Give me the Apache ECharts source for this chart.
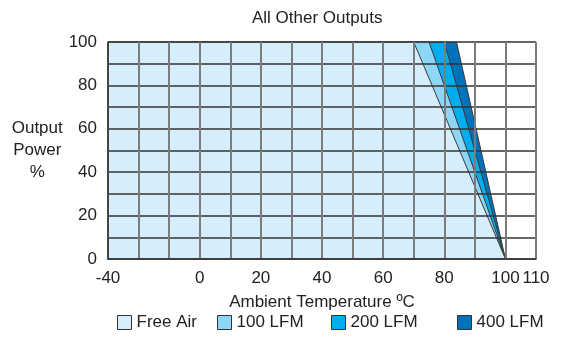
<!DOCTYPE html>
<html>
<head>
<meta charset="utf-8">
<script src="https://cdn.jsdelivr.net/npm/echarts@6/dist/echarts.min.js"></script>
<style>html,body{margin:0;padding:0;background:#fff}#c{width:561px;height:340px}</style>
</head>
<body>
<div id="c"></div>
<script>
// ---- data ----
const titleText = 'All Other Outputs';
const xAxisName = 'Ambient Temperature ºC';
const yAxisName = 'Output\nPower\n%';
const xTickLabels = [-40, 0, 20, 40, 60, 80, 100, 110];
const yTicks = [0, 20, 40, 60, 80, 100];
const seriesNames = ['Free Air', '100 LFM', '200 LFM', '400 LFM'];
const freeAir = [[-40, 100], [70, 100], [100, 0]];
const lfm100  = [[-40, 100], [75, 100], [100, 0]];
const lfm200  = [[-40, 100], [80, 100], [100, 0]];
const lfm400  = [[-40, 100], [84, 100], [100, 0]];
const seriesColors = ['#d6eefb', '#8ed6f5', '#00aeef', '#0071bb'];

// Broken x scale: -40..0 spans 3 grid cells, then 10 °C per cell
function toPos(t) { return t >= 0 ? 3 + t / 10 : 3 * (t + 40) / 40; }
const posLabel = {};
xTickLabels.forEach(t => { posLabel[Math.round(toPos(t) * 100) / 100] = String(t); });

const seriesData = [freeAir, lfm100, lfm200, lfm400];
const font = 'Liberation Sans, Arial, sans-serif';
const fs = 17;

const series = [];
for (let i = seriesData.length - 1; i >= 0; i--) {
  series.push({
    name: seriesNames[i],
    type: 'line',
    data: seriesData[i].map(p => [toPos(p[0]), p[1]]),
    symbol: 'none',
    color: seriesColors[i],
    itemStyle: { color: seriesColors[i] },
    lineStyle: { color: '#3a3a3a', width: 1 },
    areaStyle: { color: seriesColors[i], opacity: 1, origin: 'start' },
    z: 2 + (seriesData.length - i),
    silent: true,
    animation: false
  });
}

const legendLefts = [117, 217, 331, 457];
const legends = seriesNames.map((n, i) => ({
  data: [n],
  left: legendLefts[i],
  top: 314,
  icon: 'rect',
  itemWidth: 14,
  itemHeight: 14,
  itemGap: 5,
  itemStyle: { color: seriesColors[i], borderColor: '#333', borderWidth: 1 },
  lineStyle: { width: 0 },
  textStyle: { fontSize: fs, color: '#222', fontFamily: font, padding: [0, 0, 0, 0] },
  selectedMode: false,
  padding: 0
}));

const chart = echarts.init(document.getElementById('c'), null, { renderer: 'canvas' });
chart.setOption({
  animation: false,
  backgroundColor: '#fff',
  title: {
    text: titleText,
    left: 247,
    top: 5,
    textStyle: { fontSize: fs, fontWeight: 'normal', color: '#222', fontFamily: font }
  },
  legend: legends,
  grid: { left: 108, right: 25, top: 42, bottom: 81, containLabel: false },
  xAxis: {
    type: 'value',
    min: 0,
    max: 14,
    interval: 1,
    z: 10,
    name: xAxisName,
    nameLocation: 'middle',
    nameGap: 35,
    nameTextStyle: { fontSize: fs, color: '#222', fontFamily: font },
    axisLine: { show: true, lineStyle: { color: '#333', width: 1.5 } },
    axisTick: { show: false },
    axisLabel: {
      margin: 11,
      fontSize: fs,
      color: '#222',
      fontFamily: font,
      showMinLabel: true,
      showMaxLabel: true,
      formatter: v => posLabel[Math.round(v * 100) / 100] || ''
    },
    splitLine: { show: true, lineStyle: { color: '#7c7c7c', width: 2 } }
  },
  yAxis: {
    type: 'value',
    min: yTicks[0],
    max: yTicks[yTicks.length - 1],
    interval: 10,
    z: 10,
    name: yAxisName,
    nameLocation: 'middle',
    nameRotate: 0,
    nameGap: 68,
    nameTextStyle: { fontSize: fs, color: '#222', fontFamily: font, lineHeight: 22, align: 'center' },
    axisLine: { show: true, lineStyle: { color: '#333', width: 1.5 } },
    axisTick: { show: false },
    axisLabel: {
      margin: 11,
      fontSize: fs,
      color: '#222',
      fontFamily: font,
      formatter: v => (yTicks.indexOf(v) >= 0 ? String(v) : '')
    },
    splitLine: { show: true, lineStyle: { color: '#333', width: 1.5 } }
  },
  series: series
});
</script>
</body>
</html>
